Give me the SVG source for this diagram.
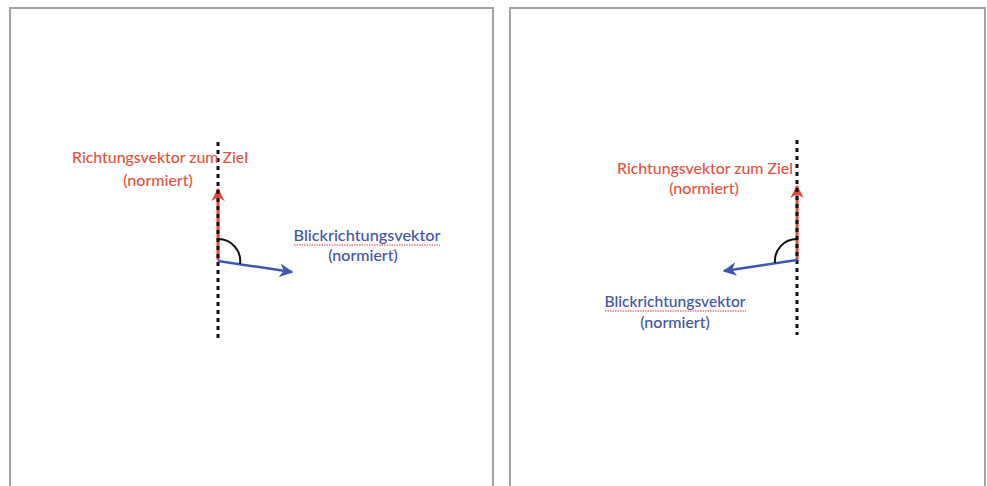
<svg xmlns="http://www.w3.org/2000/svg" width="987" height="486" viewBox="0 0 987 486">
  <style>
    .panel { fill: #ffffff; stroke: #a3a3a3; stroke-width: 2; }
    .axis { stroke: #111111; stroke-width: 3; stroke-dasharray: 4 4; fill: none; }
    .target { stroke: #e8473d; stroke-width: 3; fill: none; }
    .view { stroke: #3c56b4; stroke-width: 2.5; fill: none; }
    .angle { stroke: #111111; stroke-width: 2; fill: none; }
    .squiggle { stroke: #e0403c; stroke-width: 1.2; stroke-dasharray: 1.5 1; fill: none; }
    text { font-family: "Lato", "Open Sans", "Liberation Sans", sans-serif; font-size: 16px; font-weight: 500; text-anchor: middle; }
    .red { fill: #e5533f; }
    .blue { fill: #4354a6; }
  </style>
  <defs>
    <marker id="arrow-red" viewBox="0 0 10 10" refX="9" refY="5" markerWidth="4.5" markerHeight="4.5" orient="auto" markerUnits="strokeWidth">
      <path d="M0,0 L10,5 L0,10 L3,5 Z" fill="#e8473d"/>
    </marker>
    <marker id="arrow-blue" viewBox="0 0 10 10" refX="9" refY="5" markerWidth="5.5" markerHeight="5.5" orient="auto" markerUnits="strokeWidth">
      <path d="M0,0 L10,5 L0,10 L3,5 Z" fill="#3c56b4"/>
    </marker>
  </defs>

  <!-- slide frames -->
  <rect class="panel" x="10" y="8" width="483" height="490"/>
  <rect class="panel" x="510" y="8" width="475" height="490"/>

  <!-- left slide: view vector turned to the right -->
  <g id="left-slide">
    <g id="left-connectors">
      <line class="target" x1="218" y1="260" x2="218" y2="189" marker-end="url(#arrow-red)"/>
      <line class="axis" x1="218" y1="142" x2="218" y2="340"/>
      <line class="view" x1="218" y1="261" x2="292" y2="272" marker-end="url(#arrow-blue)"/>
      <path class="angle" d="M218,239 A22,22 0 0 1 240,264"/>
    </g>
    <g id="left-target-label">
      <text class="red" x="160" y="163" textLength="176" lengthAdjust="spacingAndGlyphs">Richtungsvektor zum Ziel</text>
      <text class="red" x="158" y="186">(normiert)</text>
    </g>
    <g id="left-view-label">
      <text class="blue" x="367" y="241" textLength="147" lengthAdjust="spacingAndGlyphs">Blickrichtungsvektor</text>
      <path class="squiggle" d="M294,245 H440"/>
      <text class="blue" x="363" y="261">(normiert)</text>
    </g>
  </g>

  <!-- right slide: view vector turned to the left -->
  <g id="right-slide">
    <g id="right-connectors">
      <line class="target" x1="797" y1="260" x2="797" y2="186" marker-end="url(#arrow-red)"/>
      <line class="axis" x1="797" y1="140" x2="797" y2="335"/>
      <line class="view" x1="797" y1="260" x2="724" y2="271" marker-end="url(#arrow-blue)"/>
      <path class="angle" d="M797,239 A22,22 0 0 0 775,263"/>
    </g>
    <g id="right-target-label">
      <text class="red" x="705" y="174" textLength="176" lengthAdjust="spacingAndGlyphs">Richtungsvektor zum Ziel</text>
      <text class="red" x="704" y="194">(normiert)</text>
    </g>
    <g id="right-view-label">
      <text class="blue" x="675" y="307" textLength="141" lengthAdjust="spacingAndGlyphs">Blickrichtungsvektor</text>
      <path class="squiggle" d="M605,311 H746"/>
      <text class="blue" x="675" y="328">(normiert)</text>
    </g>
  </g>
</svg>
